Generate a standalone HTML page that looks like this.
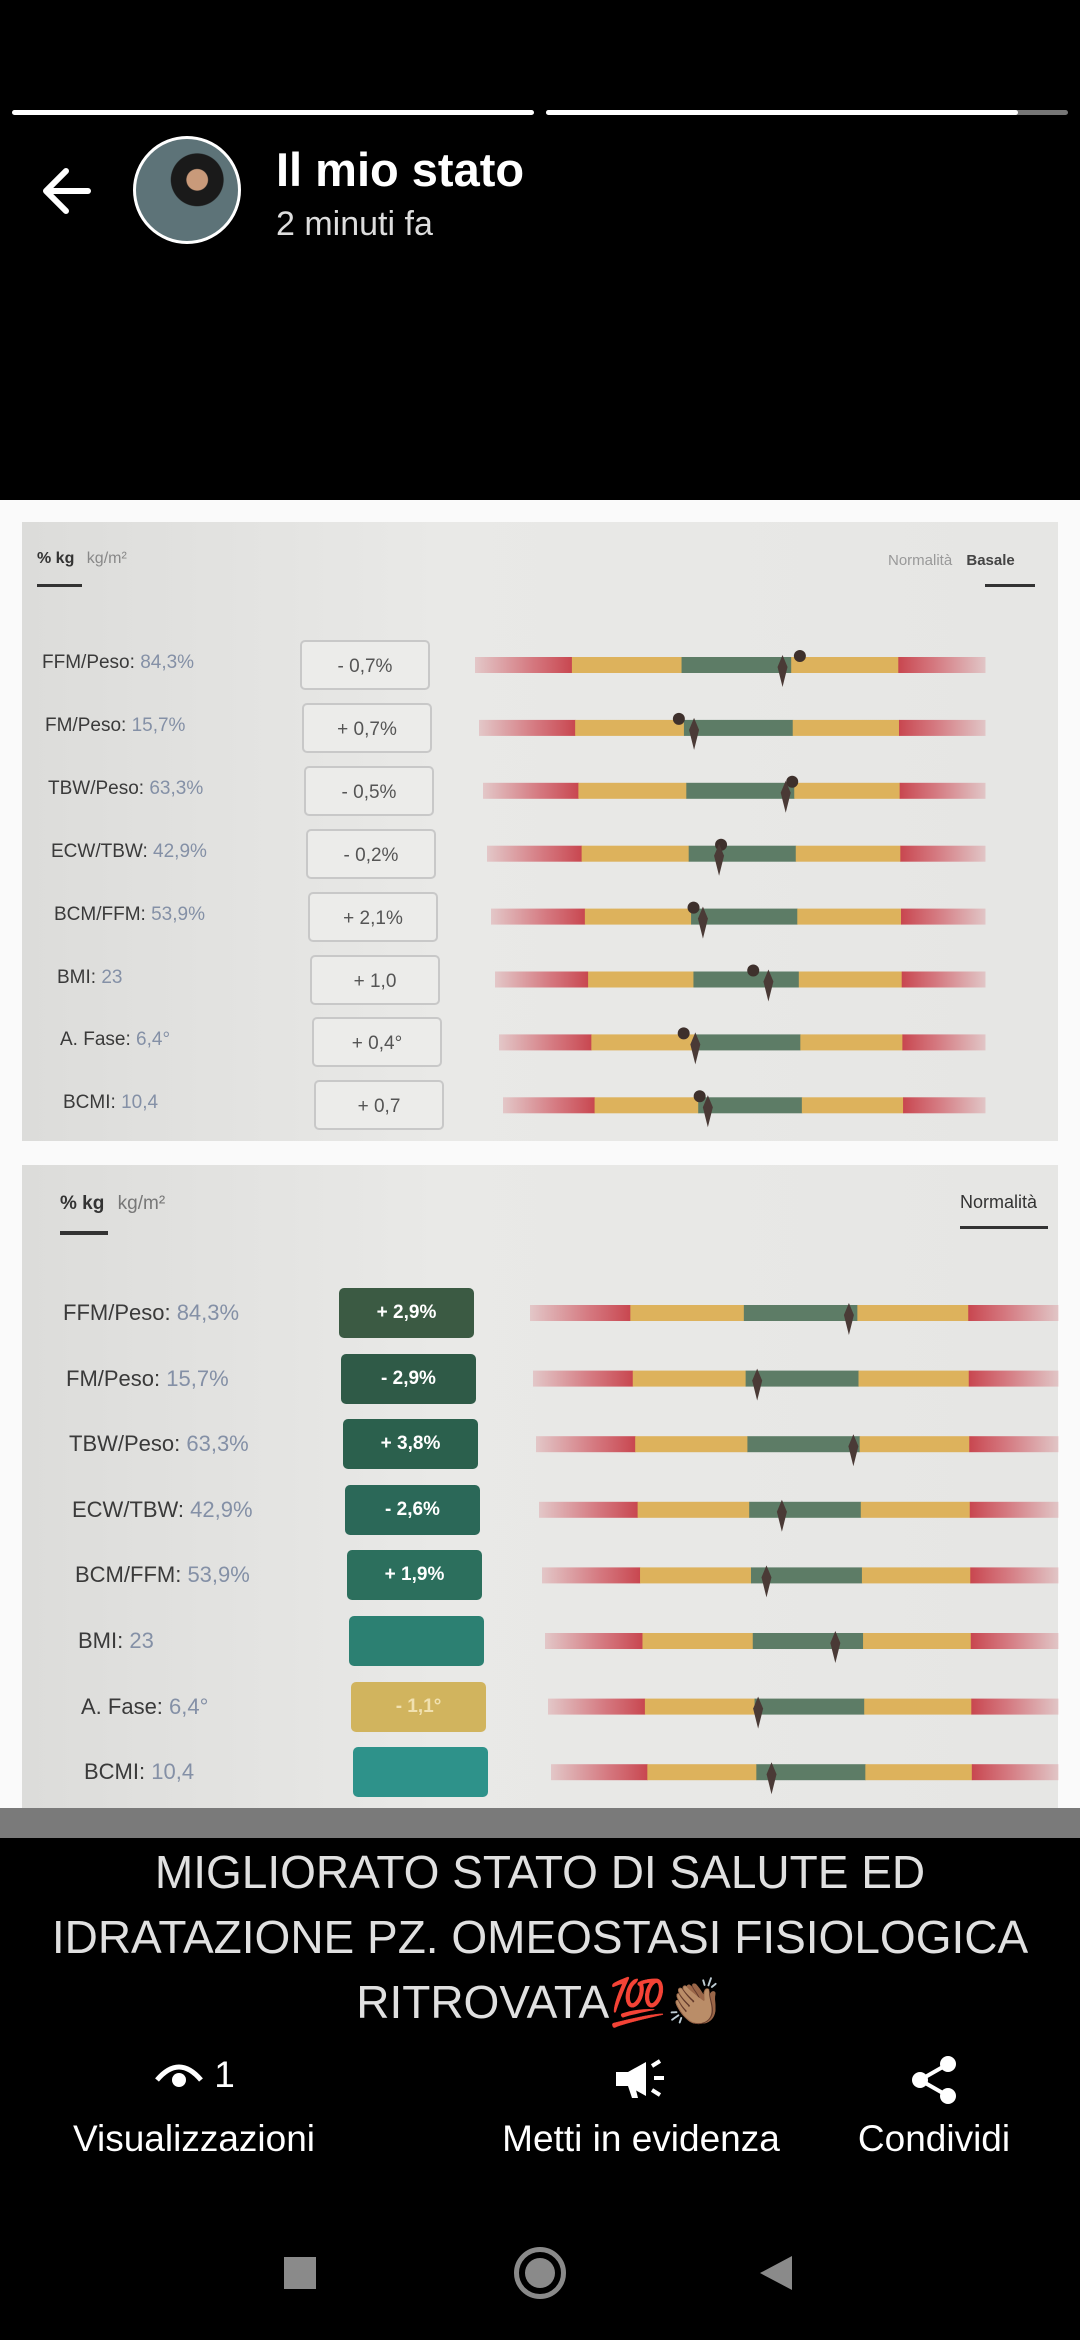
<!DOCTYPE html>
<html><head><meta charset="utf-8">
<style>
*{margin:0;padding:0;box-sizing:border-box}
body{width:1080px;height:2340px;background:#000;position:relative;overflow:hidden;font-family:"Liberation Sans","Noto Sans CJK SC",sans-serif}
.abs{position:absolute}
.card{position:absolute;left:22px;width:1036px;background:linear-gradient(90deg,#dcdcda,#e9e9e7 40%,#e6e6e4)}
.lbl{position:absolute;font-size:22px;color:#3a3a3a;white-space:nowrap}
.lbl span{color:#8490a6}
.box{position:absolute;border-radius:5px;font-size:19px;text-align:center;line-height:50px}
.act{position:absolute;color:#fff;font-size:37px;text-align:center;white-space:nowrap}
</style></head><body>
<div class="abs" style="left:0;top:0;width:1080px;height:500px;background:#000"></div>
<div class="abs" style="left:12px;top:110px;width:522px;height:5px;background:#fff;border-radius:3px"></div>
<div class="abs" style="left:546px;top:110px;width:522px;height:5px;background:#777;border-radius:3px"><div style="width:472px;height:5px;background:#fff;border-radius:3px"></div></div>
<svg class="abs" style="left:38px;top:166px" width="56" height="50" viewBox="0 0 56 50"><path d="M50 25H8M28 5L8 25L28 45" stroke="#fff" stroke-width="6" fill="none" stroke-linecap="round" stroke-linejoin="round"/></svg>
<div class="abs" style="left:133px;top:136px;width:108px;height:108px;border-radius:50%;border:3px solid #fff;background:radial-gradient(circle at 60% 40%,#c99a7a 0 12%,#1a1a1a 13% 30%,#5d7378 31%)"></div>
<div class="abs" style="left:276px;top:142px;color:#fff;font-size:47px;font-weight:bold">Il mio stato</div>
<div class="abs" style="left:276px;top:205px;color:#ddd;font-size:34px">2 minuti fa</div>

<div class="abs" style="left:0;top:500px;width:1080px;height:1338px;background:#fafafa"></div>
<div class="card" style="top:522px;height:619px"></div>
<div class="card" style="top:1165px;height:645px"></div>
<div class="abs" style="left:0;top:1808px;width:1080px;height:30px;background:#7a7a7a"></div>

<div class="abs" style="left:37px;top:550px;font-size:16px;color:#333"><b>% kg</b> <span style="color:#888;margin-left:8px">kg/m²</span></div>
<div class="abs" style="left:37px;top:584px;width:45px;height:3px;background:#333"></div>
<div class="abs" style="left:888px;top:552px;font-size:15px;color:#999">Normalità <b style="color:#444;margin-left:10px">Basale</b></div>
<div class="abs" style="left:985px;top:584px;width:50px;height:3px;background:#333"></div>

<div class="abs" style="left:60px;top:1193px;font-size:19px;color:#333"><b>% kg</b> <span style="color:#777;margin-left:8px">kg/m²</span></div>
<div class="abs" style="left:60px;top:1231px;width:48px;height:4px;background:#333"></div>
<div class="abs" style="left:960px;top:1192px;font-size:18px;color:#333">Normalità</div>
<div class="abs" style="left:960px;top:1226px;width:88px;height:3px;background:#333"></div>

<div id="rows"></div>
<svg id="chart" class="abs" style="left:0;top:0" width="1080" height="1840"></svg>

<div class="abs" style="left:0;top:1840px;width:1080px;text-align:center;color:#e0e0e0;font-size:46px;line-height:65px">MIGLIORATO STATO DI SALUTE ED<br>IDRATAZIONE PZ. OMEOSTASI FISIOLOGICA<br>RITROVATA💯👏🏽</div>

<div class="act" style="left:154px;top:2054px;width:80px"><svg width="50" height="34" viewBox="0 0 50 34" style="vertical-align:middle"><path d="M3 20Q25-6 47 20" stroke="#fff" stroke-width="5" fill="none"/><circle cx="25" cy="20" r="7" fill="#fff"/></svg> 1</div>
<div class="act" style="left:44px;top:2118px;width:300px">Visualizzazioni</div>
<svg class="abs" style="left:612px;top:2058px" width="58" height="44" viewBox="0 0 58 44"><path d="M4 14h12l18-10v34L16 28H4z" fill="#fff"/><path d="M16 28l4 12h6l-3-12" fill="#fff"/><path d="M42 20h10M40 8l8-5M40 32l8 5" stroke="#fff" stroke-width="4"/></svg>
<div class="act" style="left:480px;top:2118px;width:322px">Metti in evidenza</div>
<svg class="abs" style="left:908px;top:2054px" width="52" height="52" viewBox="0 0 52 52"><circle cx="40" cy="10" r="8" fill="#fff"/><circle cx="12" cy="26" r="8" fill="#fff"/><circle cx="40" cy="42" r="8" fill="#fff"/><path d="M40 10L12 26L40 42" stroke="#fff" stroke-width="4" fill="none"/></svg>
<div class="act" style="left:834px;top:2118px;width:200px">Condividi</div>

<div class="abs" style="left:284px;top:2257px;width:32px;height:32px;background:#8a8a8a"></div>
<div class="abs" style="left:514px;top:2247px;width:52px;height:52px;border-radius:50%;border:5px solid #8a8a8a"><div style="margin:6px;width:30px;height:30px;border-radius:50%;background:#8a8a8a"></div></div>
<svg class="abs" style="left:758px;top:2254px" width="36" height="38"><polygon points="34,2 34,36 2,19" fill="#8a8a8a"/></svg>

<script>
// Card 1 (Basale)
const labels1 = ["FFM/Peso:","FM/Peso:","TBW/Peso:","ECW/TBW:","BCM/FFM:","BMI:","A. Fase:","BCMI:"];
const values1 = ["84,3%","15,7%","63,3%","42,9%","53,9%","23","6,4°","10,4"];
const deltas1 = ["- 0,7%","+ 0,7%","- 0,5%","- 0,2%","+ 2,1%","+ 1,0","+ 0,4°","+ 0,7"];
const dots1 = [63.7,39.5,61.6,47,41,52.7,38,40.8];
const diam1 = [60.3,42.5,60.3,46.6,42.9,55.8,40.4,42.5];
// Card 2 (Normalità)
const deltas2 = ["+ 2,9%","- 2,9%","+ 3,8%","- 2,6%","+ 1,9%","","- 1,1°",""];
const diam2 = [60.4,42.7,60.8,46.8,43.5,56.6,41.2,43.5];
const zones = [0,19,40.5,62,83,100];

const boxColors2 = ["#3b5a43","#2f5a47","#2b604d","#2b6858","#2c6f5d","#2c8072","#d1b45e","#2e928a"];
const zoneColors = ["#d1636c","#ddb25c","#5d7c66","#ddb25c","#d1636c"];
const svg = document.getElementById('chart');
const rowsDiv = document.getElementById('rows');
const NS = "http://www.w3.org/2000/svg";
function mk(tag, attrs){const e=document.createElementNS(NS,tag);for(const k in attrs)e.setAttribute(k,attrs[k]);svg.appendChild(e);return e;}
const defs = mk('defs',{});
defs.innerHTML = '<linearGradient id="fl" x1="0" x2="1"><stop offset="0" stop-color="#d1636c" stop-opacity="0.25"/><stop offset="0.6" stop-color="#d1636c" stop-opacity="0.85"/><stop offset="1" stop-color="#c8464f"/></linearGradient><linearGradient id="fr" x1="1" x2="0"><stop offset="0" stop-color="#d1636c" stop-opacity="0.25"/><stop offset="0.6" stop-color="#d1636c" stop-opacity="0.85"/><stop offset="1" stop-color="#c8464f"/></linearGradient>';

const y1 = i => 665 + i*62.9;
const y2 = i => 1313 + i*65.6;
function xs(v, x0, x1){return x0 + (x1-x0)*v/100;}

function drawBar(cy, x0, x1, h, name){
  for(let z=0; z<5; z++){
    const fill = z==0 ? 'url(#fl)' : z==4 ? 'url(#fr)' : zoneColors[z];
    const r = mk('rect',{x:xs(zones[z],x0,x1),y:cy-h/2,width:xs(zones[z+1],x0,x1)-xs(zones[z],x0,x1)+0.5,height:h,fill:fill});
    
    
  }
}
function diamond(x, cy, name){
  const p = mk('polygon',{points:`${x},${cy-12} ${x+5},${cy} ${x},${cy+20} ${x-5},${cy}`,fill:'#4a3a36'});
  
  
}

labels1.forEach((l,i)=>{
  const cy = y1(i);
  const x0 = 475 + i*4, x1 = 985;
  drawBar(cy, x0, x1, 16, 'bar1-'+i);
  const c = mk('circle',{cx:xs(dots1[i],x0,x1),cy:cy-9,r:6,fill:'#3e302c'});
  
  
  diamond(xs(diam1[i],x0,x1), cy+2, 'current-marker-1-'+i);

  const d = document.createElement('div');
  d.className='lbl';
  d.style.left=(42+i*3)+'px'; d.style.top=(cy-13)+'px'; d.style.fontSize='19px';
  d.innerHTML = l+' <span>'+values1[i]+'</span>';
  
  
  rowsDiv.appendChild(d);
  const b = document.createElement('div');
  b.className='box';
  b.style.left=(300+i*2)+'px'; b.style.top=(cy-25)+'px'; b.style.width='130px'; b.style.height='50px';
  b.style.border='2px solid #c8c8c8'; b.style.background='#ececea'; b.style.color='#555';
  b.textContent = deltas1[i];
  
  
  rowsDiv.appendChild(b);
});

labels1.forEach((l,i)=>{
  const cy = y2(i);
  const x0 = 530 + i*3, x1 = 1058;
  drawBar(cy, x0, x1, 16, 'bar2-'+i);
  diamond(xs(diam2[i],x0,x1), cy+2, 'current-marker-2-'+i);
  const d = document.createElement('div');
  d.className='lbl';
  d.style.left=(63+i*3)+'px'; d.style.top=(cy-13)+'px';
  d.innerHTML = l+' <span>'+values1[i]+'</span>';
  
  
  rowsDiv.appendChild(d);
  const b = document.createElement('div');
  b.className='box';
  b.style.left=(339+i*2)+'px'; b.style.top=(cy-25)+'px'; b.style.width='135px'; b.style.height='50px';
  b.style.background=boxColors2[i]; b.style.color= i==6 ? '#f1e1b0' : '#fff'; b.style.fontWeight='bold';
  b.textContent = deltas2[i];
  
  
  rowsDiv.appendChild(b);
});
</script>
</body></html>
